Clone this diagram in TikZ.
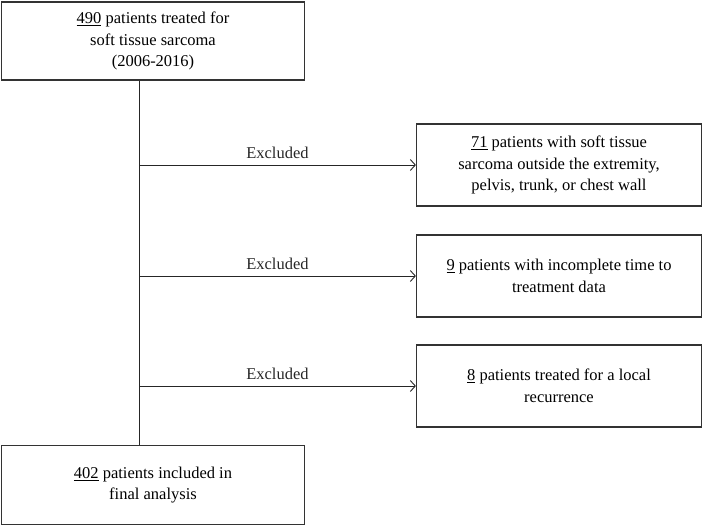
\documentclass[tikz,border=0pt]{standalone}
\usepackage{fontspec}
\setmainfont{Liberation Serif}
\usetikzlibrary{positioning,arrows.meta}

\tikzset{
  flowbox/.style={draw=black!80, line width=1.2pt, align=center, inner sep=4pt,
    font=\fontsize{16.5}{21.5}\selectfont},
  leftbox/.style={flowbox, minimum width=303pt, minimum height=78pt},
  exbox/.style={flowbox, minimum width=285pt, minimum height=82pt},
  exarrow/.style={-{Straight Barb[length=5pt,width=11pt]}, line width=0.9pt, black!85},
  exlabel/.style={midway, above=3pt, font=\fontsize{16.5}{19}\selectfont}
}

\begin{document}
\begin{tikzpicture}[x=1pt, y=-1pt]
			\useasboundingbox (0,0) rectangle (703,526);
			\node[leftbox] (total) at (153,41) {\underline{490} patients treated for\\ soft tissue sarcoma\\ (2006-2016)};
			\node[leftbox, minimum height=79pt] (final) at (153,485) {\underline{402} patients included in\\ final analysis};
			\node[exbox] (site) at (559,165) {\underline{71} patients with soft tissue\\ sarcoma outside the extremity,\\ pelvis, trunk, or chest wall};
			\node[exbox] (time) at (559,276) {\underline{9} patients with incomplete time to\\ treatment data};
			\node[exbox] (recur) at (559,386) {\underline{8} patients treated for a local\\ recurrence};
			\coordinate (top) at ([xshift=-14pt]total.south);
			\coordinate (bot) at ([xshift=-14pt]final.north);
			\draw[line width=0.9pt, black!85] (top) -- (bot);
			\draw[exarrow] (top |- site.west) -- (site.west) node[exlabel] {Excluded};
			\draw[exarrow] (top |- time.west) -- (time.west) node[exlabel] {Excluded};
			\draw[exarrow] (top |- recur.west) -- (recur.west) node[exlabel] {Excluded};
		\end{tikzpicture}
\end{document}
